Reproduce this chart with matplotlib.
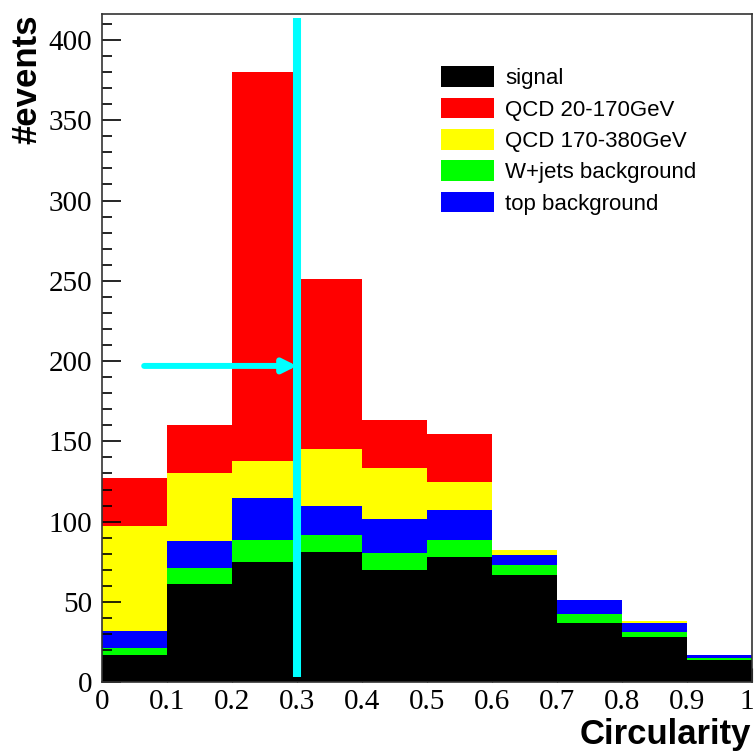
#!/usr/bin/env python3
import numpy as np
import matplotlib.pyplot as plt
from matplotlib.transforms import ScaledTranslation

# Circularity histogram, 10 bins on [0, 1], stacked per sample (events per bin)
bin_edges = np.linspace(0.0, 1.0, 11)
signal = [17, 61, 75, 81, 70, 78, 67, 37, 28, 14]
wjets = [4.5, 10, 13.5, 11, 10.5, 10.5, 6, 5.5, 3, 1]
top = [10.5, 17, 26.5, 18, 21, 19, 6, 8.5, 6, 2]
qcd_170_380 = [65, 42.5, 22.5, 35, 32, 17, 3.5, 0, 1, 0]
qcd_20_170 = [30, 30, 242.5, 106, 30, 30, 0, 0, 0, 0]

# cut position and arrow
cut = 0.3
cut_line_y = (3.5, 414)
arrow_y = 197
arrow_from = 0.065

# stacking order from the bottom up
stack = [
    ("signal", signal, "#000000"),
    ("W+jets background", wjets, "#00ff00"),
    ("top background", top, "#0000ff"),
    ("QCD 170-380GeV", qcd_170_380, "#ffff00"),
    ("QCD 20-170GeV", qcd_20_170, "#ff0000"),
]
legend_order = ["signal", "QCD 20-170GeV", "QCD 170-380GeV",
                "W+jets background", "top background"]

fig = plt.figure(figsize=(7.55, 7.53), dpi=100)
ax = fig.add_axes([0.135, 0.094, 0.861, 0.887])

left = bin_edges[:-1]
width = np.diff(bin_edges)
bottom = np.zeros(len(left))
handles = {}
for name, vals, color in stack:
    vals = np.asarray(vals, dtype=float)
    bars = ax.bar(left, vals, width=width, bottom=bottom, align='edge',
                  color=color, edgecolor='none', label=name)
    handles[name] = bars
    bottom += vals

# cut line and arrow
ax.plot([cut, cut], cut_line_y, color='#00ffff', lw=5.8, solid_capstyle='butt', zorder=5)
ax.annotate('', xy=(cut, arrow_y), xytext=(arrow_from, arrow_y),
            arrowprops=dict(arrowstyle='-|>,head_length=0.8,head_width=0.4',
                            color='#00ffff', lw=4.3, shrinkA=0, shrinkB=0),
            zorder=6)

ax.set_xlim(0, 1)
ax.set_ylim(0, 416)
ax.set_xticks(np.arange(0, 1.01, 0.1))
ax.set_xticklabels(["0", "0.1", "0.2", "0.3", "0.4", "0.5", "0.6", "0.7", "0.8", "0.9", "1"])
ax.set_yticks(np.arange(0, 401, 50))
ax.set_yticks(np.arange(0, 411, 10), minor=True)

ax.tick_params(axis='both', which='both', direction='in', labelsize=21,
               top=False, right=False)
ax.tick_params(axis='y', which='major', length=14, width=1.2, pad=7)
ax.tick_params(axis='y', which='minor', length=7, width=1.2)
ax.tick_params(axis='x', which='major', length=10, pad=5)
for lab in ax.get_xticklabels() + ax.get_yticklabels():
    lab.set_family('Liberation Serif')
# keep the last x label inside the figure
last = ax.get_xticklabels()[-1]
last.set_transform(last.get_transform() + ScaledTranslation(-5 / 100, 0, fig.dpi_scale_trans))

for sp in ax.spines.values():
    sp.set_linewidth(1.2)
    sp.set_color('#333333')

ax.set_xlabel("Circularity", family='Liberation Sans', fontweight='bold',
              fontsize=25, ha='right', va='top')
ax.xaxis.set_label_coords(0.998, -0.053)
ax.set_ylabel("#events", family='Liberation Sans', fontweight='bold',
              fontsize=25, loc='top', labelpad=4)

ax.legend([handles[n] for n in legend_order], legend_order,
          loc='upper left', bbox_to_anchor=(0.521, 0.922),
          frameon=False,
          prop={'family': 'Liberation Sans', 'size': 16},
          handlelength=2.4, handleheight=1.05, handletextpad=0.5,
          labelspacing=0.38, borderpad=0, borderaxespad=0)

fig.savefig("out.png", dpi=100)
